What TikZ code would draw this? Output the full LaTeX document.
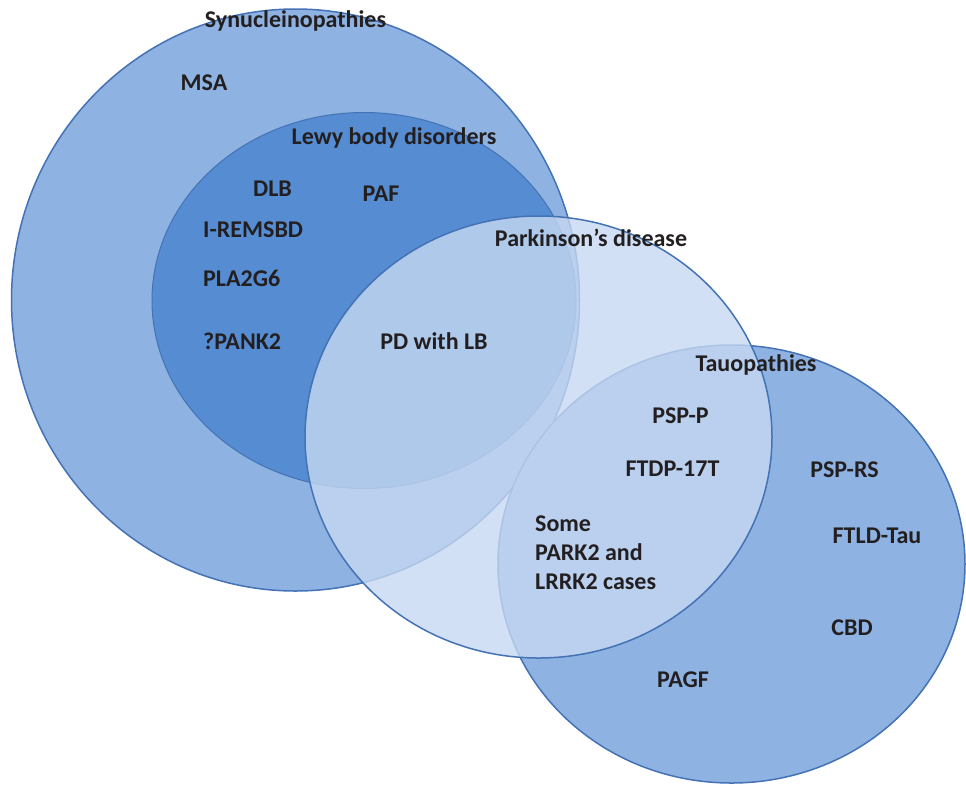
\documentclass[tikz,border=0pt]{standalone}
\usepackage{fontspec}
\setmainfont{Carlito}
\definecolor{synfill}{RGB}{142,179,226}
\definecolor{lewyfill}{RGB}{86,141,210}
\definecolor{taufill}{RGB}{142,179,226}
\definecolor{pdfill}{RGB}{198,216,241}
\definecolor{edgeblue}{RGB}{68,114,180}
\definecolor{labelink}{RGB}{35,31,32}
\tikzset{
  setshape/.style={draw=edgeblue, line width=1.5pt},
  lbl/.style={inner sep=0pt, anchor=base, text=labelink,
    font=\fontsize{24}{29}\selectfont\bfseries},
  lblw/.style={lbl, anchor=base west, align=left}
}
\begin{document}
\begin{tikzpicture}[x=1pt,y=-1pt]
\useasboundingbox (0,0) rectangle (966,785);
% sets
\draw[setshape, fill=synfill] (295.5,300) ellipse [x radius=284, y radius=291];
\draw[setshape, line width=1pt, fill=lewyfill] (364,300.5) ellipse [x radius=212, y radius=188];
\draw[setshape, fill=taufill] (731.5,564) ellipse [x radius=233.5, y radius=219];
\draw[setshape, fill=pdfill, fill opacity=0.8] (538.5,437) ellipse [x radius=233.5, y radius=221];
% labels
\node[lbl] (syn) at (295.5,27) {Synucleinopathies};
\node[lbl] (msa) at (204,90) {MSA};
\node[lbl] (lewy) at (394,144) {Lewy body disorders};
\node[lbl] (dlb) at (272.5,196) {DLB};
\node[lbl] (paf) at (381,201) {PAF};
\node[lblw] (irem) at (203,237) {I-REMSBD};
\node[lblw] (pla) at (203,286) {PLA2G6};
\node[lblw] (pank) at (203,349) {?PANK2};
\node[lbl] (pdlb) at (434,349) {PD with LB};
\node[lbl] (pd) at (591,246) {Parkinson’s disease};
\node[lbl] (tau) at (756,371) {Tauopathies};
\node[lbl] (pspp) at (680.5,423) {PSP-P};
\node[lbl] (ftdp) at (672.5,476) {FTDP-17T};
\node[lbl] (psprs) at (844.5,477) {PSP-RS};
\node[lbl] (ftld) at (877,543) {FTLD-Tau};
\node[lblw] (some) at (535,589) {Some\\PARK2 and\\LRRK2 cases};
\node[lbl] (cbd) at (852,635) {CBD};
\node[lbl] (pagf) at (683,687) {PAGF};
\end{tikzpicture}
\end{document}
